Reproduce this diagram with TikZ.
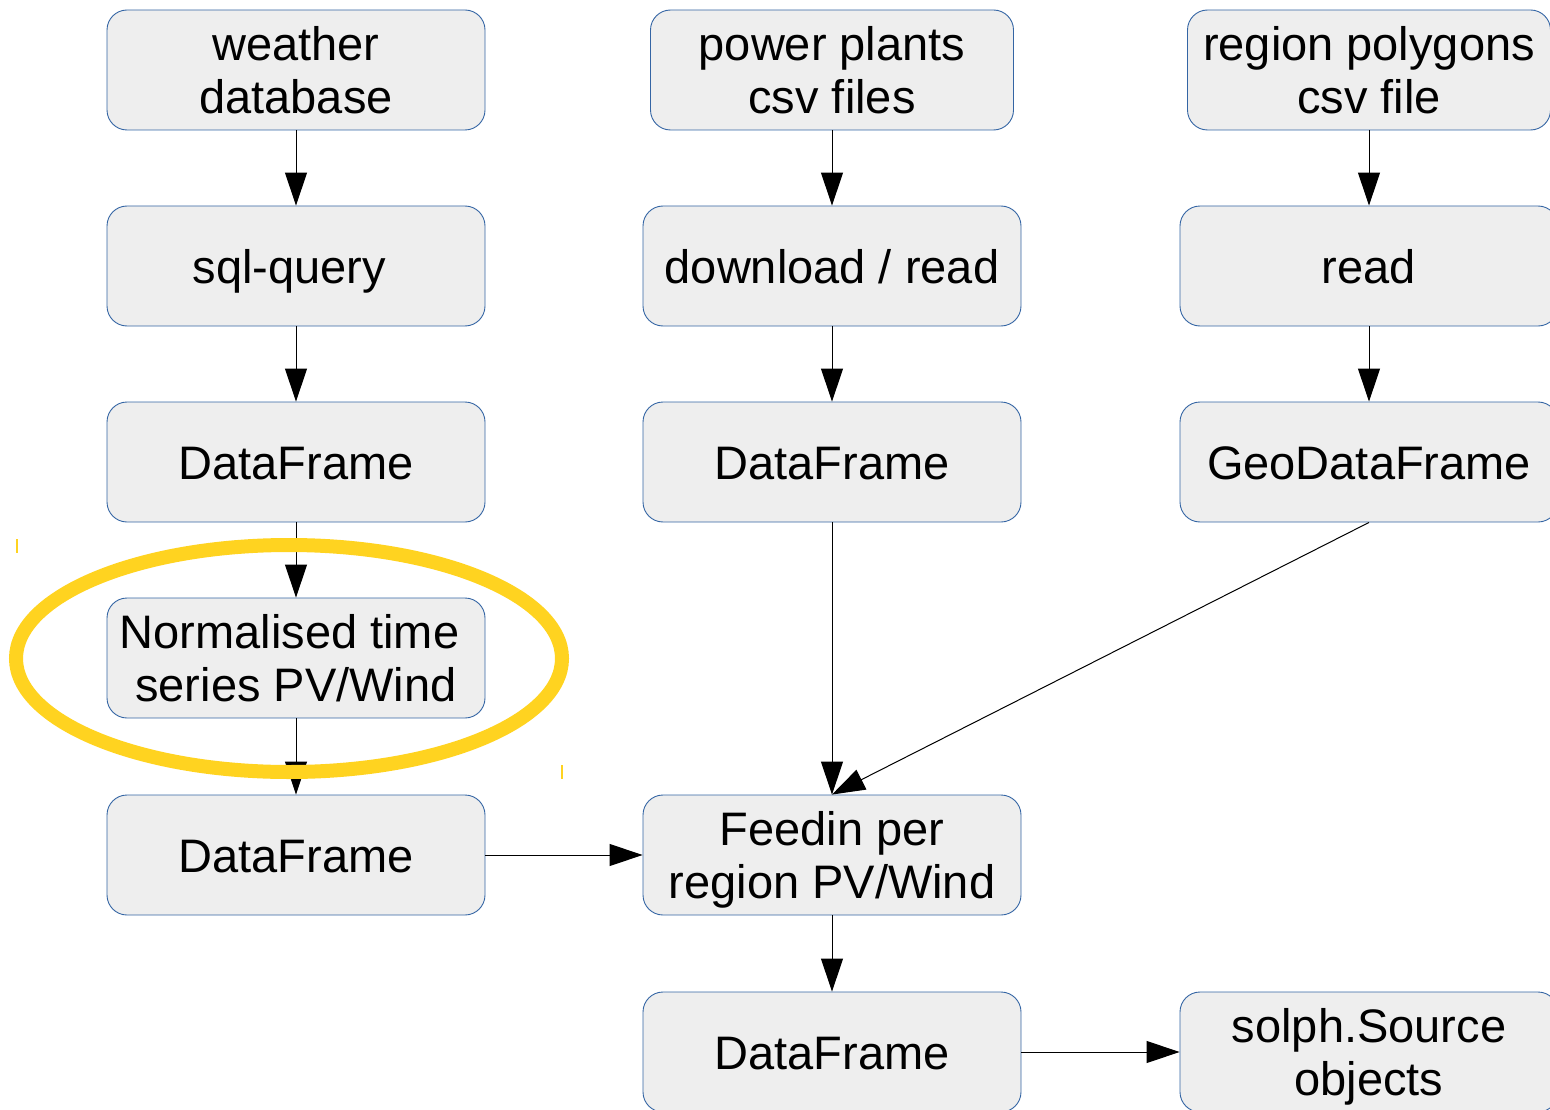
\documentclass[tikz,border=0pt]{standalone}
\usepackage{fontspec}
\setmainfont{Liberation Sans}
\usetikzlibrary{arrows.meta}
\definecolor{boxfill}{RGB}{238,238,238}
\definecolor{boxline}{RGB}{52,101,164}
\definecolor{hilite}{RGB}{255,211,32}
\tikzset{
  box/.style={draw=boxline, fill=boxfill, line width=0.9pt, rounded corners=20pt,
    minimum height=120pt, inner sep=0pt, align=center,
    text height=34pt, text depth=0pt,
    font=\fontsize{47pt}{53pt}\selectfont},
  twoline/.style={text height=87pt, text depth=0pt},
  wbox/.style={box, minimum width=378pt},
  nbox/.style={box, minimum width=363pt},
  conn/.style={line width=1pt, -{Triangle[width=22pt,length=33pt]}},
}
\begin{document}
\begin{tikzpicture}[x=1pt,y=-1pt]
\useasboundingbox (0,0) rectangle (1550,1110);
% column 1
\node[wbox, twoline] (wdb) at (296,70) {weather\\database};
\node[wbox] (sql) at (296,266) {sql-query\kern0.278em};
\node[wbox] (df1) at (296,462) {DataFrame};
\node[wbox, twoline] (norm) at (296,658) {Normalised time\kern0.278em\\series PV/Wind};
\node[wbox] (df2) at (296,855) {DataFrame};
% column 2
\node[nbox, twoline] (pp) at (832,70) {power plants\\csv files};
\node[wbox] (dl) at (832,266) {download / read};
\node[wbox] (df3) at (832,462) {DataFrame};
\node[wbox, twoline] (feed) at (832,855) {Feedin per\\region PV/Wind};
\node[wbox] (df4) at (832,1052) {DataFrame};
% column 3
\node[nbox, twoline] (rp) at (1369,70) {region polygons\\csv file};
\node[wbox] (rd) at (1369,266) {read};
\node[wbox] (geo) at (1369,462) {GeoDataFrame};
\node[wbox, twoline] (solph) at (1369,1052) {solph.Source\\objects};
% connectors
\draw[conn] (wdb.south) -- (sql.north);
\draw[conn] (sql.south) -- (df1.north);
\draw[conn] (df1.south) -- (norm.north);
\draw[conn] (norm.south) -- (df2.north);
\draw[conn] (pp.south) -- (dl.north);
\draw[conn] (dl.south) -- (df3.north);
\draw[conn] (df3.south) -- (feed.north);
\draw[conn] (rp.south) -- (rd.north);
\draw[conn] (rd.south) -- (geo.north);
\draw[conn] (geo.south) -- (feed.north);
\draw[conn] (df2.east) -- (feed.west);
\draw[conn] (feed.south) -- (df4.north);
\draw[conn] (df4.east) -- (solph.west);
% highlight
\draw[hilite, line width=14pt] (289,658.5) ellipse [x radius=273, y radius=113.5];
\draw[hilite, line width=1.5pt] (17,539) -- (17,553);
\draw[hilite, line width=1.5pt] (562,765) -- (562,779);
\end{tikzpicture}
\end{document}
